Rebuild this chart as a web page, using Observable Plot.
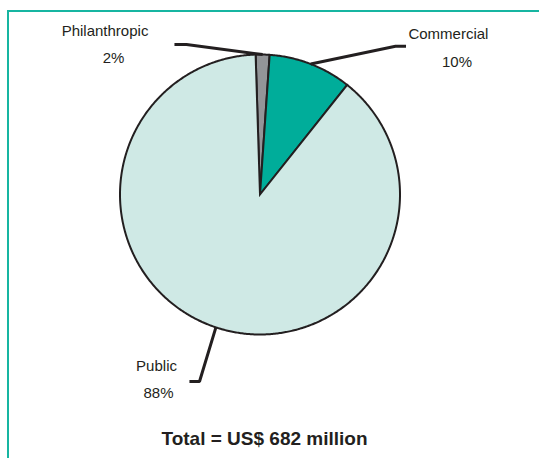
<!DOCTYPE html>
<html>
<head>
<meta charset="utf-8">
<script src="https://cdn.jsdelivr.net/npm/d3@7"></script>
<script src="https://cdn.jsdelivr.net/npm/@observablehq/plot@0.6"></script>
<style>
  html, body { margin: 0; padding: 0; background: #ffffff; overflow: hidden; }
  #wrap { position: relative; width: 539px; height: 458px; }
  #frame { position: absolute; left: 7px; top: 10px; width: 560px; height: 480px;
           border-left: 2px solid #17b5a1; border-top: 2px solid #17b5a1; box-sizing: border-box; }
  #chart svg { display: block; }
  #title { width: 529px; text-align: center; margin-top: 6px; font: bold 19px "Liberation Sans", Arial, sans-serif;
           line-height: 22px; color: #231f20; }
</style>
</head>
<body>
<div id="wrap">
  <div id="frame"></div>
  <div id="chart"></div>
  <div id="title">Total = US$ 682 million</div>
</div>
<script>
// ---- data ----
const names = ["Philanthropic", "Commercial", "Public"];
const shares = [1.6, 9.6, 88.8];           // % share
const pctLabels = ["2%", "10%", "88%"];    // printed labels
const colors = ["#939598", "#00ad9a", "#cfe9e5"];

// ---- layout (pie units: centre 0,0, radius 1) ----
const startAngleDeg = -1.8;
const nameAt  = [[-1.107, 1.129], [1.346, 1.114], [-0.739, -1.264]];
const pctAt   = [[-1.046, 0.936], [1.407, 0.914], [-0.725, -1.457]];
const elbowAt = [[-0.525, 1.071], [0.968, 1.059], [-0.432, -1.336]];
const tailAt  = [[-0.611, 1.071], [1.043, 1.059], [-0.504, -1.336]];

const table = names.map((name, i) => ({name, share: shares[i], pct: pctLabels[i]}));
const arcs = d3.pie().sort(null).value(d => d.share)
  .startAngle(startAngleDeg * Math.PI / 180)
  .endAngle(startAngleDeg * Math.PI / 180 + 2 * Math.PI)(table);

// slice polygons
const slicePts = [];
arcs.forEach(a => {
  const n = Math.max(2, Math.ceil((a.endAngle - a.startAngle) / (Math.PI / 360)));
  slicePts.push({name: a.data.name, x: 0, y: 0});
  for (let k = 0; k <= n; k++) {
    const t = a.startAngle + (a.endAngle - a.startAngle) * k / n;
    slicePts.push({name: a.data.name, x: Math.sin(t), y: Math.cos(t)});
  }
});

// leader lines
const leaderPts = [];
arcs.forEach((a, i) => {
  const m = (a.startAngle + a.endAngle) / 2;
  leaderPts.push({name: a.data.name, x: Math.sin(m), y: Math.cos(m)});
  leaderPts.push({name: a.data.name, x: elbowAt[i][0], y: elbowAt[i][1]});
  leaderPts.push({name: a.data.name, x: tailAt[i][0], y: tailAt[i][1]});
});

const textRows = [];
table.forEach((d, i) => {
  textRows.push({x: nameAt[i][0], y: nameAt[i][1], t: d.name});
  textRows.push({x: pctAt[i][0], y: pctAt[i][1], t: d.pct});
});

const W = 539, H = 422, R = 140, cx = 259.5, cy = 194;
const chart = Plot.plot({
  width: W, height: H, margin: 0,
  x: {domain: [-cx / R, (W - cx) / R], axis: null},
  y: {domain: [(cy - H) / R, cy / R], axis: null},
  color: {domain: names, range: colors},
  style: {background: "none", fontFamily: "'Liberation Sans', Arial, sans-serif", overflow: "visible"},
  marks: [
    Plot.line(slicePts, {x: "x", y: "y", z: "name", fill: "name", stroke: "#231f20",
      strokeWidth: 2, curve: "linear-closed", strokeLinejoin: "miter", strokeMiterlimit: 10}),
    Plot.line(leaderPts, {x: "x", y: "y", z: "name", stroke: "#231f20", strokeWidth: 3,
      strokeLinecap: "butt", strokeLinejoin: "miter"}),
    Plot.text(textRows, {x: "x", y: "y", text: "t", fontSize: 15, fill: "#231f20",
      textAnchor: "middle", lineAnchor: "bottom"})
  ]
});
document.getElementById("chart").appendChild(chart);
</script>
</body>
</html>
